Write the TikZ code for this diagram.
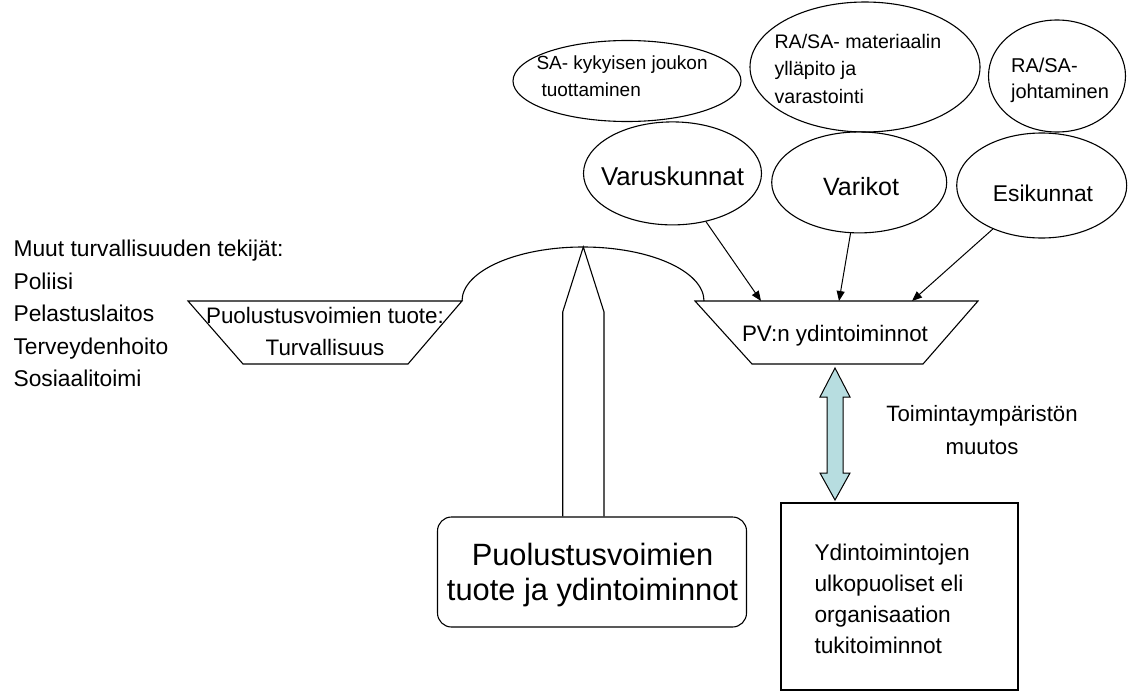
\documentclass[tikz,border=0pt]{standalone}
\usepackage{fontspec}
\setmainfont{Liberation Sans}
\usetikzlibrary{shapes.geometric,arrows.meta,calc}
\definecolor{arrowfill}{RGB}{183,221,224}

\begin{document}
\begin{tikzpicture}[x=1pt, y=-1pt, line width=1.1pt, line join=miter,
  oval/.style={draw, ellipse, inner sep=0pt},
  plain/.style={inner sep=0pt},
  link/.style={-{Triangle[length=10pt,width=8pt]}, line width=1pt}]
\useasboundingbox (0,0) rectangle (1129,693);

% other actors in security
\begin{scope}[every node/.style={plain, anchor=base west, font=\fontsize{22.8}{26}\selectfont}]
  \node (l1) at (13,256.7) {Muut turvallisuuden tekijät:};
  \node (l2) at (13,289.2) {Poliisi};
  \node (l3) at (13,321.7) {Pelastuslaitos};
  \node (l4) at (13,354.2) {Terveydenhoito};
  \node (l5) at (13,386.7) {Sosiaalitoimi};
\end{scope}

% balance pans
\coordinate (lp1) at (188,301);
\coordinate (lp2) at (462,301);
\coordinate (lp3) at (408,364);
\coordinate (lp4) at (243,364);
\coordinate (rp1) at (695,301);
\coordinate (rp2) at (978,301);
\coordinate (rp3) at (923,364);
\coordinate (rp4) at (752,364);
\draw (lp1) -- (lp2) -- (lp3) -- (lp4) -- cycle;
\draw (rp1) -- (rp2) -- (rp3) -- (rp4) -- cycle;
\node[plain, align=center, font=\fontsize{22.4}{31.7}\selectfont] (lpt) at (325,331.2)
  {Puolustusvoimien tuote:\\Turvallisuus};
\node[plain, anchor=base, font=\fontsize{22.4}{26}\selectfont] (pvt) at (835,341.7)
  {PV:n ydintoiminnot};

% beam of the balance
\coordinate (pivot) at (583.3,247);
\draw (lp2) arc[start angle=180, end angle=360, x radius=121, y radius=54];

% base and stand
\node[draw, rounded corners=14pt, minimum width=309, minimum height=110, inner sep=0pt]
  (prod) at (592,572) {};
\node[plain, align=center, font=\fontsize{30.8}{35}\selectfont] (prodt) at (592.5,575)
  {Puolustusvoimien\\tuote ja ydintoiminnot};
\coordinate (sl) at (562.7,312);
\coordinate (sr) at (604,312);
\draw (sl |- prod.north) -- (sl) -- (pivot) -- (sr) -- (sr |- prod.north);

% top ellipses
\node[oval, minimum width=228, minimum height=81] (e1) at (627,81) {};
\node[plain, anchor=west, align=left, font=\fontsize{19}{26.7}\selectfont] (e1t) at (536,76.4)
  {SA- kykyisen joukon\\\hspace*{5pt}tuottaminen};
\node[oval, minimum width=230, minimum height=130] (e2) at (865,67) {};
\node[plain, anchor=west, align=left, font=\fontsize{19.6}{27.5}\selectfont] (e2t) at (774,68.7)
  {RA/SA- materiaalin\\ylläpito ja\\varastointi};
\node[oval, minimum width=137, minimum height=112] (e3) at (1057,76) {};
\node[plain, anchor=west, align=left, font=\fontsize{20}{26}\selectfont] (e3t) at (1010.5,80.5)
  {RA/SA-\\johtaminen};

% units
\node[oval, minimum width=178, minimum height=103] (varus) at (672.5,173.4) {};
\node[plain, anchor=base, font=\fontsize{25.8}{30}\selectfont] (varust) at (672.5,185) {Varuskunnat};
\node[oval, minimum width=175, minimum height=101] (vari) at (859.2,182.4) {};
\node[plain, anchor=base, font=\fontsize{25}{30}\selectfont] (varit) at (861,195) {Varikot};
\node[oval, minimum width=170, minimum height=105] (esik) at (1041.7,185.5) {};
\node[plain, anchor=base, font=\fontsize{22.8}{28}\selectfont] (esikt) at (1043,201.7) {Esikunnat};

% links into the core functions
\coordinate (in1) at (761,301);
\coordinate (in2) at (839,301);
\coordinate (in3) at (912,301);
\draw[link] (varus) -- (in1);
\draw[link] (vari) -- (in2);
\draw[link] (esik) -- (in3);

% support functions
\node[draw, minimum width=237, minimum height=187, inner sep=0pt] (support) at (899.5,596.5) {};
\node[plain, anchor=west, align=left, font=\fontsize{22.7}{31}\selectfont] (supt) at (814,598.4)
  {Ydintoimintojen\\ulkopuoliset eli\\organisaation\\tukitoiminnot};

% change of the operating environment
\coordinate (dt) at (835,368);
\coordinate (db) at (835,500);
\draw[fill=arrowfill, line width=1pt] (dt) -- ++(15,29) -- ++(-7,0) -- ($(db)+(8,-27)$)
  -- ++(7,0) -- (db) -- ++(-15,-27) -- ++(7,0) -- ($(dt)+(-8,29)$) -- ++(-7,0) -- cycle;
\node[plain, align=center, font=\fontsize{22.2}{33}\selectfont] (env) at (982,430.5)
  {Toimintaympäristön\\muutos};
\end{tikzpicture}
\end{document}
